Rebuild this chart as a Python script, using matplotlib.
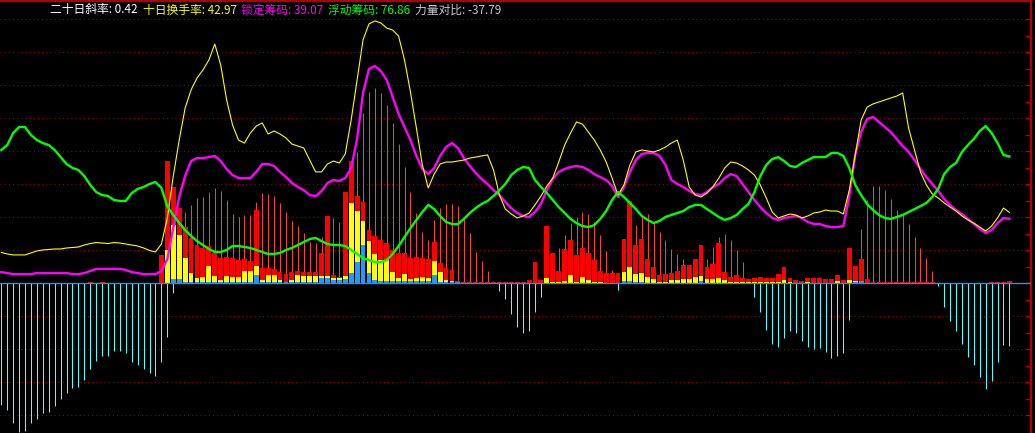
import numpy as np
import matplotlib.pyplot as plt

plt.rcParams['font.family'] = ['Noto Sans CJK SC', 'DejaVu Sans']

# 浮动筹码 (green)
float_chip = [
    80.8, 83.8, 91.1, 94.7, 94.7, 89.9, 86.8, 85.0, 83.8, 80.8,
    76.5, 72.3, 69.9, 68.7, 65.0, 59.6, 55.3, 53.5, 52.9, 50.5,
    49.9, 49.9, 54.7, 57.2, 58.4, 60.2, 61.4, 57.8, 46.5, 41.4,
    36.5, 32.3, 28.7, 25.6, 23.2, 20.8, 19.0, 19.0, 20.2, 22.6,
    22.6, 22.0, 21.4, 20.2, 19.0, 17.8, 17.8, 18.4, 20.2, 21.4,
    23.2, 25.0, 26.8, 27.5, 25.6, 23.8, 23.2, 23.2, 22.6, 20.2,
    17.8, 15.3, 14.1, 12.9, 12.9, 14.1, 17.8, 22.6, 28.1, 33.5,
    38.4, 43.2, 47.5, 45.0, 40.8, 37.2, 35.9, 35.9, 39.0, 42.6,
    45.6, 48.1, 49.9, 52.9, 56.5, 60.2, 65.6, 68.7, 70.5, 69.9,
    62.6, 58.4, 54.7, 50.5, 46.2, 42.6, 39.0, 36.5, 34.7, 34.1,
    35.3, 39.0, 43.8, 50.5, 55.3, 52.3, 48.7, 45.0, 40.8, 38.4,
    36.5, 37.8, 40.2, 41.4, 42.6, 43.8, 46.2, 47.5, 47.5, 45.0,
    42.6, 40.2, 38.4, 39.6, 41.4, 45.0, 48.1, 55.3, 65.0, 71.7,
    75.3, 76.5, 74.1, 71.1, 70.5, 72.9, 74.7, 76.5, 76.5, 76.5,
    79.0, 79.0, 77.2, 69.9, 59.6, 53.5, 48.1, 44.4, 41.4, 39.6,
    39.0, 40.2, 41.4, 43.2, 45.0, 46.8, 48.7, 52.3, 57.2, 66.2,
    70.5, 72.9, 79.6, 83.8, 87.5, 92.3, 95.3, 91.1, 85.0, 77.8,
    76.86]

# 锁定筹码 (magenta)
lock_chip = [
    6.8, 6.2, 5.6, 5.6, 5.6, 5.6, 6.2, 6.2, 6.2, 6.2,
    6.2, 6.2, 5.6, 5.6, 6.2, 7.5, 8.7, 8.7, 8.7, 8.7,
    8.7, 8.1, 6.8, 6.2, 5.6, 5.6, 5.6, 7.5, 14.7, 33.5,
    52.3, 65.0, 74.1, 75.9, 75.9, 76.5, 77.2, 74.1, 69.3, 65.6,
    63.8, 63.8, 63.8, 67.5, 72.3, 72.3, 71.1, 67.5, 64.4, 60.8,
    58.4, 56.5, 53.5, 52.9, 55.9, 60.8, 62.6, 62.0, 63.8, 69.9,
    87.5, 115.3, 129.9, 131.7, 128.7, 123.2, 112.9, 102.6, 94.7, 86.8,
    77.2, 69.3, 66.2, 69.9, 77.2, 82.6, 85.0, 82.0, 75.9, 71.1,
    66.8, 63.2, 60.2, 56.5, 53.5, 49.3, 45.6, 42.6, 40.8, 40.2,
    43.2, 48.1, 56.5, 63.2, 67.5, 69.3, 70.5, 71.1, 70.5, 68.7,
    66.2, 64.4, 62.6, 59.0, 52.3, 58.4, 67.5, 74.7, 78.4, 79.0,
    79.0, 77.2, 71.7, 62.6, 60.2, 58.4, 56.0, 54.1, 53.5, 55.3,
    58.4, 60.2, 63.8, 66.2, 65.0, 60.2, 55.3, 50.5, 46.2, 42.6,
    39.6, 38.4, 39.6, 40.2, 40.8, 39.6, 37.2, 36.0, 36.0, 34.7,
    34.1, 34.1, 34.7, 52.9, 77.8, 91.7, 99.6, 100.8, 97.8, 94.7,
    91.7, 87.5, 83.2, 79.6, 74.7, 69.3, 64.4, 60.2, 56.0, 51.1,
    47.5, 44.4, 42.0, 39.0, 36.0, 33.0, 30.5, 32.3, 36.5, 39.6,
    39.07]

# 十日换手率 (yellow)
turnover10 = [
    18.7, 17.8, 17.2, 17.2, 17.2, 18.4, 19.6, 20.2, 20.5, 20.8,
    20.8, 21.4, 21.7, 22.0, 23.2, 24.1, 24.7, 24.4, 24.1, 24.7,
    24.4, 23.8, 23.2, 22.6, 21.4, 19.9, 19.0, 23.8, 39.6, 65.0,
    86.8, 106.2, 117.2, 124.4, 129.3, 135.3, 145.0, 132.3, 111.1, 95.9,
    86.8, 85.0, 91.1, 95.3, 97.2, 90.5, 92.3, 90.5, 88.1, 84.4,
    83.2, 82.0, 74.7, 67.5, 67.5, 72.3, 74.1, 72.9, 78.4, 99.0,
    123.2, 147.5, 157.2, 159.0, 157.8, 154.7, 153.5, 149.8, 135.3, 115.9,
    94.1, 71.7, 57.8, 66.2, 72.3, 73.5, 73.5, 74.1, 74.7, 75.9,
    76.5, 77.2, 77.8, 68.7, 53.5, 45.0, 42.0, 39.6, 40.8, 42.6,
    47.5, 52.9, 58.9, 63.8, 73.5, 83.8, 91.1, 97.8, 96.5, 91.7,
    86.8, 80.8, 73.5, 63.8, 53.5, 59.6, 71.7, 79.6, 80.8, 80.2,
    79.6, 80.8, 82.6, 85.0, 86.8, 74.7, 58.4, 53.5, 52.3, 54.7,
    58.4, 63.8, 69.9, 73.5, 72.9, 71.1, 68.7, 65.6, 59.6, 51.7,
    43.2, 39.6, 40.8, 42.0, 41.4, 39.6, 40.8, 42.6, 43.2, 44.4,
    43.8, 43.8, 42.0, 56.5, 77.8, 99.0, 106.8, 108.7, 109.9, 111.1,
    112.3, 113.5, 115.3, 94.1, 80.8, 67.5, 59.6, 54.1, 51.7, 48.7,
    46.2, 43.8, 40.8, 38.4, 36.5, 34.1, 31.7, 34.7, 39.6, 45.6,
    42.97]

# 力量对比 (sticks: red above zero, cyan below)
power = [
    -73.8, -76.8, -84.5, -89.9, -89.3, -84.5, -82.0, -78.4, -77.8, -74.2,
    -69.9, -66.3, -63.3, -62.7, -58.4, -51.8, -46.9, -43.9, -43.9, -40.8,
    -40.8, -42.1, -47.5, -49.3, -51.8, -54.2, -56.0, -47.5, -32.4, -5.7,
    37.2, 43.2, 47.5, 51.5, 52.5, 55.5, 57.6, 56.1, 50.5, 42.0,
    40.4, 41.4, 41.2, 49.5, 54.5, 54.1, 52.9, 48.5, 43.4, 37.8,
    34.7, 30.7, 25.2, 24.2, 27.9, 33.5, 39.4, 37.3, 47.0, 57.0,
    79.8, 103.4, 116.1, 118.2, 115.5, 108.1, 97.3, 84.4, 70.7, 55.5,
    42.4, 31.3, 26.2, 38.4, 45.6, 48.1, 48.1, 46.8, 39.0, 30.5,
    19.0, 13.5, 7.5, 1.4, -4.5, -9.5, -18.6, -26.3, -29.9, -28.7,
    -17.2, -8.1, 8.0, 16.0, 21.2, 29.3, 36.7, 40.4, 43.0, 42.0,
    37.3, 29.3, 19.8, 8.1, -4.0, 10.0, 22.6, 35.3, 40.8, 42.0,
    36.4, 31.3, 26.2, 20.8, 17.8, 14.7, 11.0, 6.0, 4.0, 15.0,
    22.2, 28.2, 29.9, 26.2, 20.2, 13.1, 3.0, -8.1, -17.2, -28.3,
    -36.8, -38.4, -33.0, -28.9, -29.9, -34.8, -38.4, -40.0, -39.0, -41.5,
    -45.5, -43.9, -42.4, -22.2, 9.7, 32.9, 50.5, 59.2, 59.2, 56.5,
    51.1, 44.4, 41.2, 35.9, 28.1, 21.4, 15.5, 7.5, -1.6, -14.2,
    -22.6, -28.7, -36.8, -44.5, -49.5, -56.6, -64.2, -59.0, -47.5, -37.4,
    -37.79]

# 柱体: red / yellow / blue tops
bar_red = ([0] * 15 + [0.8, 0, 0.8] + [0] * 9 +
           [17.2, 74.1, 58.5, 45.8, 34.3, 27.3, 23.2, 21.6, 22.6, 18.2,
            15.5, 16.1, 15.5, 14.1, 14.7, 13.5, 44.4, 9.1, 9.5, 8.7,
            7.0, 5.6, 7.0, 7.5, 6.8, 6.8, 6.8, 18.2, 40.8, 5.0,
            4.0, 55.5, 74.1, 53.1, 49.5, 32.3, 28.8, 26.2, 24.2, 20.2,
            18.2, 18.2, 15.2, 15.8, 15.2, 14.7, 25.0, 12.1, 9.5, 8.1,
            1.6, 0.8, 0.6, 0.6, 0.6, 0.6, 0.6, 0.6, 0.8, 0.6,
            0.6, 1.0, 2.0, 13.1, 2.0, 34.7, 18.5, 7.6, 20.8, 26.2,
            17.2, 21.2, 18.5, 14.1, 7.5, 6.1, 6.1, 6.1, 26.7, 50.1,
            23.2, 26.7, 14.7, 9.7, 5.0, 5.6, 6.1, 7.5, 11.1, 11.1,
            14.7, 23.2, 10.1, 11.7, 24.6, 7.0, 4.0, 5.0, 3.4, 2.8,
            3.4, 4.0, 3.4, 3.4, 5.6, 10.1, 3.4, 2.0, 1.4, 3.4,
            3.4, 3.4, 2.8, 2.8, 5.0, 2.0, 21.6, 10.5, 14.7, 2.6] +
           [0.6] * 11 + [0] * 9 + [0.6, 0.8, 0.8, 1.5])

bar_yellow = ([0] * 28 +
              [20.2, 35.3, 29.3, 15.5, 6.4, 3.4, 4.0, 10.7, 4.4, 2.0,
               4.4, 4.0, 3.6, 7.6, 7.6, 10.5, 2.0, 5.0, 5.0, 2.0,
               1.0, 2.0, 5.0, 4.4, 4.4, 4.4, 4.4, 4.4, 3.0, 3.0,
               4.4, 48.5, 44.0, 37.9, 25.8, 17.8, 14.1, 14.1, 7.0, 3.0,
               5.6, 2.6, 3.0, 4.0, 3.0, 13.5, 7.0, 2.0, 1.4, 0.6] +
              [0] * 14 +
              [3.4, 1.0, 0.6, 1.6, 5.0, 1.0, 4.0, 2.0, 1.0, 0.6] +
              [0, 0, 0] +
              [7.0, 10.1, 5.6, 6.4, 4.0, 2.6, 1.0, 0.8, 2.0, 2.0,
               2.4, 2.6, 3.8, 4.4, 2.6, 2.6, 3.4, 2.0, 0.8, 0.8,
               1.0, 1.0, 1.0, 1.0, 1.0, 1.0, 1.0, 2.0, 1.0, 0,
               0, 0.8, 0, 0, 0, 0, 1.6, 0, 2.0, 1.5] +
              [0] * 26)

bar_blue = ([0] * 29 +
            [2.6, 2.6, 1.0, 0.5, 0.5, 0.5, 1.0, 0.5, 0.5, 0.5,
             0.5, 0.5, 0.5, 0.5, 5.0, 0.5, 0.5, 0.5, 0.5, 0.5,
             0.5, 0.5, 0.5, 0.5, 0.5, 3.0, 3.0, 2.0, 2.0, 2.4,
             6.1, 13.1, 23.2, 6.4, 2.0, 1.4, 1.2, 1.2, 1.2, 1.2,
             1.2, 1.2, 1.2, 1.2, 5.0, 0.8, 0.5, 0.5, 0.5, 0] +
            [0] * 26 + [1.4, 1.4, 1.0, 1.0] + [0] * 9 + [1.4] +
            [0] * 25 + [1.0, 1.6] + [0] * 25)

legend_items = [
    ('二十日斜率: 0.42', '#ffffff', 50),
    ('十日换手率: 42.97', '#ffff00', 142.7),
    ('锁定筹码: 39.07', '#ff00ff', 240.7),
    ('浮动筹码: 76.86', '#00ff00', 328.3),
    ('力量对比: -37.79', '#c8c8c8', 415),
]

n = len(power)
x = np.arange(n)
power = np.array(power)

W, H = 1035, 433
fig = plt.figure(figsize=(W / 100, H / 100), dpi=100, facecolor='black')
ax = fig.add_axes([0, 0, 1031 / W, 1 - 1 / H])
ax.set_facecolor('black')

# grid
for g in range(-80, 161, 20):
    if g == 0:
        continue
    ax.axhline(g, color='#a00000', lw=0.75, ls=(0, (1, 3)), zorder=1)

# sticks
pos = power > 0
ax.vlines(x[pos], 0, power[pos], color='#f04444', lw=0.75, zorder=2)
ax.vlines(x[~pos], 0, power[~pos], color='#55ffff', lw=0.75, zorder=2)

# stacked bars (each drawn from zero)
bw = 0.82
ax.bar(x, bar_red, width=bw, color='#ff0000', lw=0, zorder=3)
ax.bar(x, bar_yellow, width=bw, color='#ffff00', lw=0, zorder=4)
ax.bar(x, bar_blue, width=bw, color='#1e9bff', lw=0, zorder=5)
ax.axhline(0, color='#1e90ff', lw=1.0, zorder=5)

# lines
ax.plot(x, lock_chip, color='#ff00ff', lw=1.7, zorder=6)
ax.plot(x, turnover10, color='#ffff00', lw=0.8, zorder=7)
ax.plot(x, float_chip, color='#00ff00', lw=1.7, zorder=8)

ax.set_xlim(-1.3 / 5.93, -1.3 / 5.93 + 1031 / 5.93)
ax.set_ylim(-(432 - 282.3) / 1.65, 282.3 / 1.65)

for s in ['left', 'bottom']:
    ax.spines[s].set_visible(False)
for s in ['top', 'right']:
    ax.spines[s].set_color('#b00000')
    ax.spines[s].set_linewidth(1.6)
ax.set_xticks([])
ax.yaxis.tick_right()
ax.set_yticks(np.arange(-80, 170, 10))
ax.tick_params(axis='y', direction='in', length=4, width=1, color='#b00000',
               labelright=False)

for label, col, px in legend_items:
    fig.text(px / W, 1 - 10 / H, label, color=col, fontsize=8.5,
             va='center', ha='left')

fig.savefig('out.png', dpi=100, facecolor='black')
